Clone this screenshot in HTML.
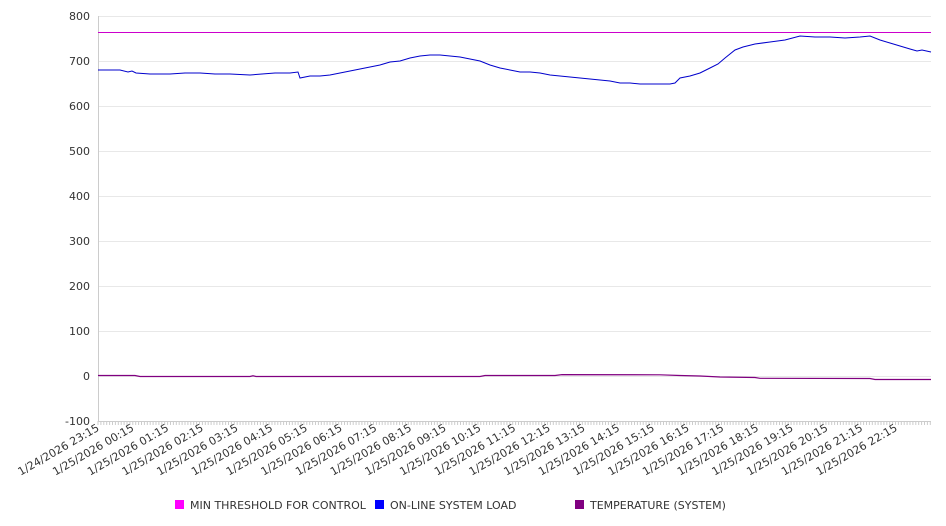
<!DOCTYPE html><html><head><style>body{margin:0;background:#fff}svg{display:block;font-family:"DejaVu Sans","Liberation Sans",sans-serif}</style></head><body>
<svg width="946" height="526" viewBox="0 0 946 526">
<g stroke="#e8e8e8" stroke-width="1">
<line x1="98" x2="931" y1="16.5" y2="16.5"/><line x1="98" x2="931" y1="61.5" y2="61.5"/><line x1="98" x2="931" y1="106.5" y2="106.5"/><line x1="98" x2="931" y1="151.5" y2="151.5"/><line x1="98" x2="931" y1="196.5" y2="196.5"/><line x1="98" x2="931" y1="241.5" y2="241.5"/><line x1="98" x2="931" y1="286.5" y2="286.5"/><line x1="98" x2="931" y1="331.5" y2="331.5"/><line x1="98" x2="931" y1="376.5" y2="376.5"/>
</g>
<line x1="98.5" x2="98.5" y1="16" y2="421" stroke="#ccc"/>
<line x1="98" x2="931" y1="421.5" y2="421.5" stroke="#ccc"/>
<g font-size="11" fill="#333" text-anchor="end">
<text x="90" y="20">800</text><text x="90" y="65">700</text><text x="90" y="110">600</text><text x="90" y="155">500</text><text x="90" y="200">400</text><text x="90" y="245">300</text><text x="90" y="290">200</text><text x="90" y="335">100</text><text x="90" y="380">0</text><text x="90" y="425">-100</text>
</g>
<path id="tk" stroke="#ccc" d="" />
<g id="ticks" stroke="#ccc"></g>
<line x1="98" x2="931" y1="32.5" y2="32.5" stroke="#cc00cc" stroke-width="1"/>
<polyline fill="none" stroke="#0000cc" stroke-width="1" points="98,70 120,70 128,72 132,71 136,73 150,74 170,74 185,73 200,73 215,74 230,74 250,75 262,74 275,73 290,73 298,72 300,78 310,76 320,76 330,75 340,73 350,71 360,69 370,67 380,65 390,62 400,61 410,58 420,56 430,55 440,55 450,56 460,57 470,59 480,61 490,65 500,68 510,70 520,72 530,72 540,73 550,75 560,76 570,77 580,78 590,79 600,80 610,81 620,83 630,83 640,84 650,84 660,84 670,84 675,83 680,78 690,76 700,73 710,68 718,64 725,58 735,50 743,47 755,44 770,42 785,40 800,36 815,37 830,37 845,38 860,37 870,36 880,40 890,43 900,46 910,49 917,51 922,50 931,52"/>
<polyline fill="none" stroke="#800080" stroke-width="1.2" points="98,375.5 135,375.5 140,376.5 250,376.5 253,375.8 256,376.5 480,376.5 485,375.5 555,375.5 562,374.6 660,374.8 680,375.5 700,376 720,377 755,377.5 760,378.3 870,378.5 875,379.5 931,379.5"/>
<g font-size="11" fill="#333" id="xl"></g>
<rect x="175" y="500" width="9" height="9" fill="#ff00ff"/><text x="190" y="509" font-size="11" fill="#333">MIN THRESHOLD FOR CONTROL</text>
<rect x="375" y="500" width="9" height="9" fill="#0000ff"/><text x="390" y="509" font-size="11" fill="#333">ON-LINE SYSTEM LOAD</text>
<rect x="575" y="500" width="9" height="9" fill="#800080"/><text x="590" y="509" font-size="11" fill="#333">TEMPERATURE (SYSTEM)</text>
</svg>
<script>
var g=document.getElementById('ticks'),s='';
for(var x=98;x<=931;x+=2.9){s+='<line x1="'+x+'" x2="'+x+'" y1="421" y2="425"/>';}
g.innerHTML=s;
var labs=['1/24/2026 23:15'],h=['00','01','02','03','04','05','06','07','08','09','10','11','12','13','14','15','16','17','18','19','20','21','22'];
h.forEach(function(v){labs.push('1/25/2026 '+v+':15')});
var t='';labs.forEach(function(l,i){var x=100+i*34.7;t+='<text text-anchor="end" transform="translate('+x+',430) rotate(-30)">'+l+'</text>'});
document.getElementById('xl').innerHTML=t;
</script>
</body></html>
